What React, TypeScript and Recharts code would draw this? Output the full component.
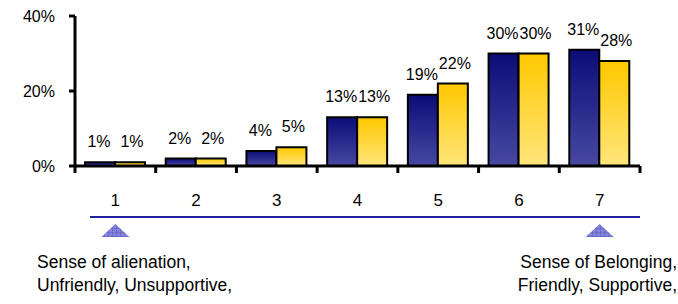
import React from 'react';
import { BarChart, Bar, XAxis, YAxis, LabelList } from 'recharts';

const categories = ['1', '2', '3', '4', '5', '6', '7'];
const seriesA = [1, 2, 4, 13, 19, 30, 31];
const seriesB = [1, 2, 5, 13, 22, 30, 28];
const yTicks = [0, 20, 40];
const leftNote = ['Sense of alienation,', 'Unfriendly, Unsupportive,'];
const rightNote = ['Sense of Belonging,', 'Friendly, Supportive,'];

const data = categories.map((c, i) => ({ x: i + 1, label: c, a: seriesA[i], b: seriesB[i] }));
const xTicks: number[] = [];
categories.forEach((_, i) => {
  xTicks.push(i + 0.5);
  xTicks.push(i + 1);
});
xTicks.push(categories.length + 0.5);

const FONT = '"Liberation Sans", Arial, sans-serif';
const FS = 16;

const XTick = (props: any) => {
  const { x, y, payload } = props;
  const v = payload.value as number;
  if (Number.isInteger(v)) {
    const label = categories[v - 1];
    const showTri = v === 1 || v === categories.length;
    return (
      <g>
        <text x={x} y={y + 40} textAnchor="middle" fontSize={17} fill="#000" fontFamily={FONT}>
          {label}
        </text>
        {showTri && (
          <polygon
            points={`${x},${y + 58} ${x + 14},${y + 71} ${x - 14},${y + 71}`}
            fill="url(#triHatch)"
          />
        )}
      </g>
    );
  }
  return <line x1={x} y1={y} x2={x} y2={y + 7} stroke="#000" strokeWidth={3} />;
};

const makeLabel = (dx: number) => (props: any) => {
  const { x, y, width, value } = props;
  return (
    <text
      x={x + width / 2 + dx}
      y={y - 15}
      textAnchor="middle"
      fontSize={FS}
      fill="#000"
      fontFamily={FONT}
    >
      {`${value}%`}
    </text>
  );
};

export default function App() {
  return (
    <div style={{ position: 'absolute', left: 0, top: 0, width: 678, height: 304, fontFamily: FONT, background: '#fff' }}>
      <BarChart
        width={678}
        height={246}
        data={data}
        margin={{ top: 16, right: 38, bottom: 0, left: 0 }}
        barGap={0}
      >
        <defs>
          <linearGradient id="gBlue" x1="0" y1="0" x2="0" y2="1">
            <stop offset="0%" stopColor="#0c0c78" />
            <stop offset="100%" stopColor="#4848a2" />
          </linearGradient>
          <linearGradient id="gYellow" x1="0" y1="0" x2="0" y2="1">
            <stop offset="0%" stopColor="#ffc800" />
            <stop offset="100%" stopColor="#ffe67c" />
          </linearGradient>
          <pattern id="triHatch" width="4" height="4" patternUnits="userSpaceOnUse">
            <rect width="4" height="4" fill="#8484d8" />
            <path d="M0 0 L0 4 M0 0 L4 0" stroke="#4444b4" strokeWidth="0.7" />
          </pattern>
        </defs>
        <XAxis
          dataKey="x"
          type="number"
          domain={[0.5, categories.length + 0.5]}
          ticks={xTicks}
          interval={0}
          height={80}
          tickSize={0}
          tickMargin={0}
          tickLine={false}
          axisLine={{ stroke: '#000', strokeWidth: 3 }}
          tick={<XTick />}
        />
        <YAxis
          domain={[0, 40]}
          ticks={yTicks}
          width={75}
          tickFormatter={(v: number) => `${v}%`}
          tick={{ fontSize: FS, fill: '#000', fontFamily: FONT }}
          tickSize={6}
          tickMargin={14}
          tickLine={{ stroke: '#000', strokeWidth: 3 }}
          axisLine={{ stroke: '#000', strokeWidth: 3 }}
        />
        <Bar dataKey="a" fill="url(#gBlue)" stroke="#000" strokeWidth={2} barSize={30} isAnimationActive={false}>
          <LabelList dataKey="a" content={makeLabel(-1)} />
        </Bar>
        <Bar dataKey="b" fill="url(#gYellow)" stroke="#000" strokeWidth={2} barSize={30} isAnimationActive={false}>
          <LabelList dataKey="b" content={makeLabel(2)} />
        </Bar>
      </BarChart>
      <div style={{ position: 'absolute', left: 90, top: 216, width: 550, height: 2, background: '#1f1f9f' }} />
      <div style={{ position: 'absolute', left: 37, top: 251, fontSize: 17.5, lineHeight: '23px', color: '#000', whiteSpace: 'nowrap' }}>
        {leftNote.map((t) => (
          <div key={t}>{t}</div>
        ))}
      </div>
      <div style={{ position: 'absolute', right: 1, top: 251, fontSize: 17.5, lineHeight: '23px', color: '#000', whiteSpace: 'nowrap', textAlign: 'right' }}>
        {rightNote.map((t) => (
          <div key={t}>{t}</div>
        ))}
      </div>
    </div>
  );
}
